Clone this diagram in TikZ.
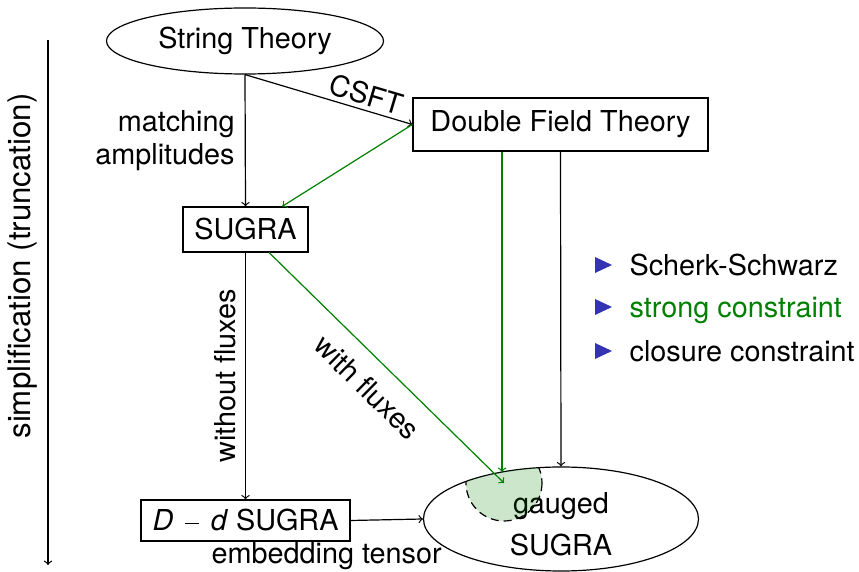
\documentclass[tikz,border=0pt]{standalone}
\usepackage{fontspec}
\setmainfont{TeX Gyre Heros}
\usetikzlibrary{shapes.geometric}
\definecolor{mygreen}{RGB}{0,128,0}
\definecolor{bblue}{RGB}{51,51,179}
\begin{document}
\begin{tikzpicture}[x=0.5pt,y=-0.5pt, line width=0.6pt, >=to,
  every node/.style={font=\fontsize{14.4}{17}\selectfont, inner sep=0pt},
  boxnode/.style={draw, rectangle},
  ellnode/.style={draw, ellipse},
  arr/.style={->},
  garr/.style={->, draw=mygreen},
  bullet/.style={fill=bblue}]
\useasboundingbox (0,0) rectangle (859,572);
% nodes
\node[ellnode, minimum width=138.5pt, minimum height=33pt] (ST) at (245,41) {String Theory};
\node[boxnode, minimum width=147.5pt, minimum height=26.5pt] (DFT) at (560.5,124.5) {Double Field Theory};
\node[boxnode, minimum width=62.5pt, minimum height=22.5pt] (SG) at (245.5,229.5) {SUGRA};
\node[boxnode, minimum width=104.5pt, minimum height=20.5pt] (DD) at (245.5,520.5) {\textit{D}\hspace{0.42em}\rule[0.24em]{0.46em}{0.05em}\hspace{0.42em}\textit{d} SUGRA};
\node[ellnode, minimum width=137.5pt, minimum height=52pt, align=center, font=\fontsize{14.4}{21}\selectfont] (GS) at (561,519) {\rule{0pt}{15.5pt}gauged\\SUGRA};
% shaded region
\coordinate (FC) at (504,483);
\begin{scope}
\clip (GS.center) ellipse [x radius=137.5, y radius=52];
\fill[mygreen, opacity=0.2] (FC) circle [radius=38];
\draw[dash pattern=on 4pt off 2.5pt] (FC) circle [radius=38];
\end{scope}
% connectors
\draw[arr] (ST.south) -- (SG.north) node[midway, left=5pt, align=right, font=\fontsize{14.4}{16.5}\selectfont] (ma) {matching\\amplitudes};
\draw[arr] (ST.south) -- (DFT.west) node[pos=0.7, above=2pt, sloped] (csft) {CSFT};
\draw[garr] (DFT.west) -- (SG);
\draw[garr] (SG) -- (FC) node[pos=0.5, below=8pt, sloped] (wf) {with fluxes};
\coordinate (G2) at (502,472);
\draw[garr] (G2 |- DFT.south) -- (G2);
\draw[arr] (DFT.south) -- (GS.north);
\draw[arr] (SG.south) -- (DD.north) coordinate[midway] (WF);
\node[rotate=90, anchor=south] (wofl) at ([xshift=-4.5pt]WF) {without fluxes};
\draw[arr] (DD.east) -- (GS.west) node[pos=0, xshift=-12pt, yshift=-18pt] (et) {embedding tensor};
% left arrow
\coordinate (LA) at (48,40);
\coordinate (LB) at (48,565);
\draw[arr] (LA) -- (LB);
\node[rotate=90, font=\fontsize{15.6}{18}\selectfont] (simp) at (22,266) {simplification (truncation)};
% bullets
\fill[bullet] (595,257) -- (612,265) -- (595,273) -- cycle;
\fill[bullet] (595,299) -- (612,307) -- (595,315) -- cycle;
\fill[bullet] (595,343) -- (612,351) -- (595,359) -- cycle;
\node[anchor=base west] (b1) at (629,276) {Scherk-Schwarz};
\node[anchor=base west, text=mygreen] (b2) at (629,318) {strong constraint};
\node[anchor=base west] (b3) at (629,362) {closure constraint};
\end{tikzpicture}
\end{document}
